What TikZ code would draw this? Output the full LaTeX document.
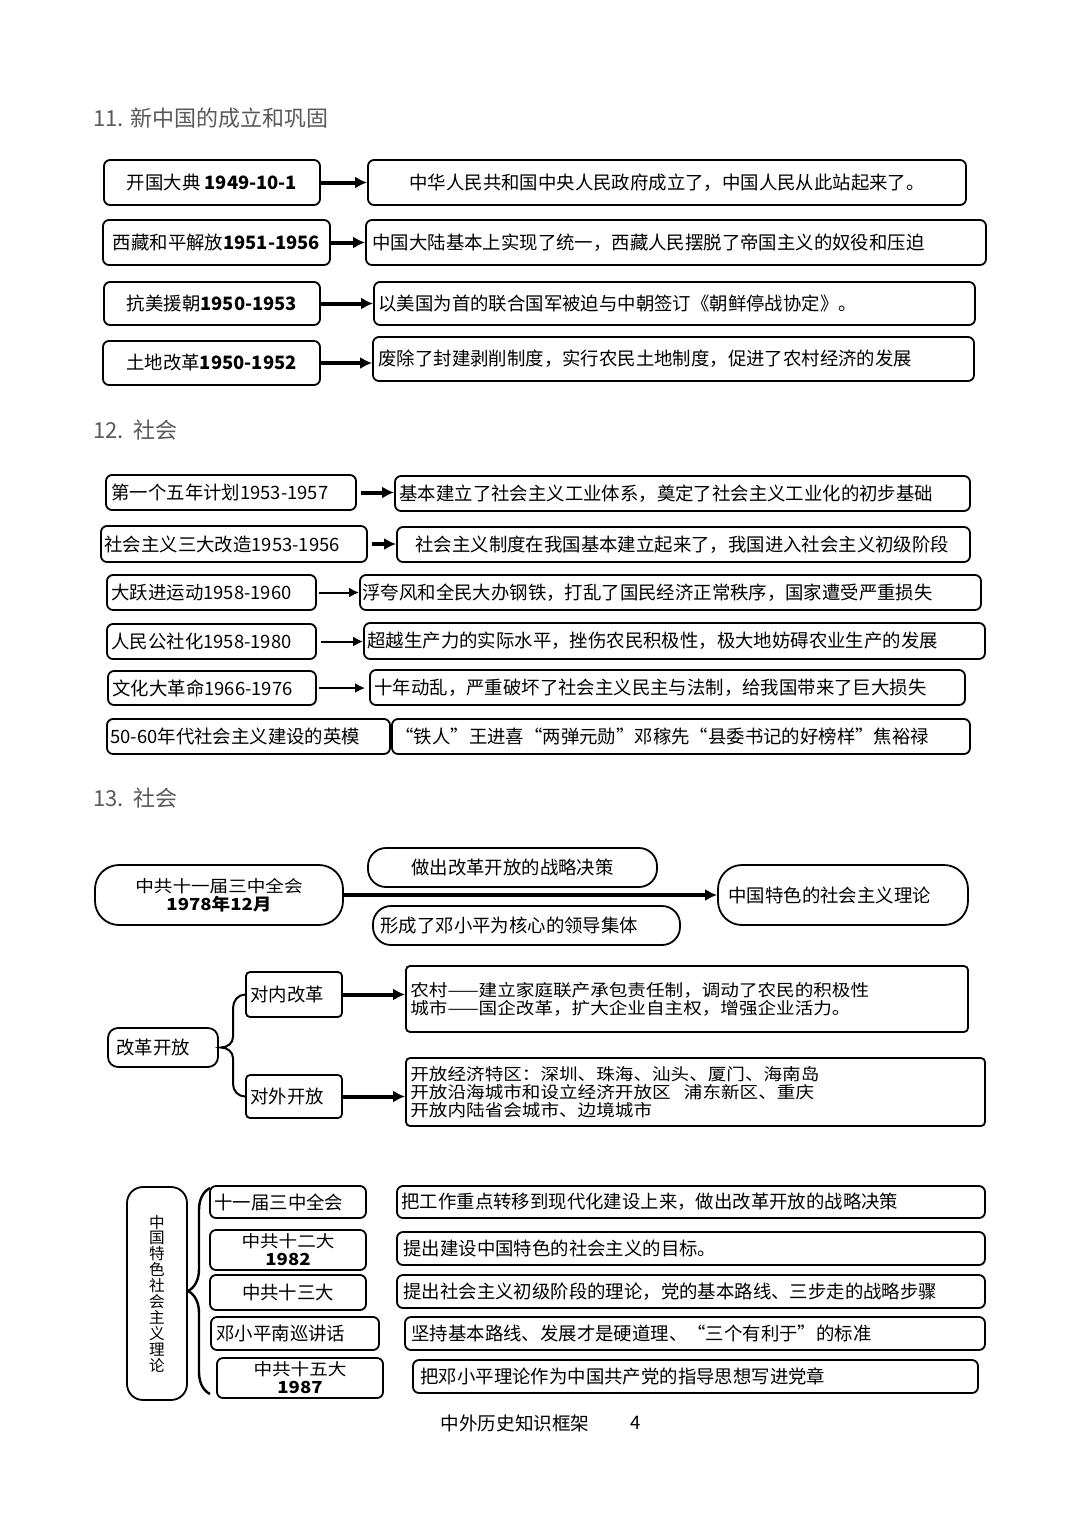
\documentclass[tikz,border=0pt]{standalone}
\usepackage{fontspec}
\setmainfont{Noto Sans CJK SC}
\newfontfamily\widecn[FakeStretch=1.12]{Noto Sans CJK SC}
\usetikzlibrary{arrows.meta,decorations.pathreplacing}

\begin{document}
\begin{tikzpicture}[x=0.5pt,y=-0.5pt,
  box/.style={draw,line width=0.9pt,rounded corners=3pt,inner sep=0pt,
    font=\fontsize{9.2}{9.2}\selectfont},
  txt/.style={anchor=west,inner sep=0pt,align=left,font=\fontsize{9.2}{9.2}\selectfont},
  lines/.style={font=\widecn\fontsize{8.3}{8.9}\selectfont},
  head/.style={anchor=west,inner sep=0pt,text=black!65,font=\fontsize{11}{13}\selectfont},
  fat/.style={line width=2pt,-{Latex[length=6pt,width=6pt]}},
  slim/.style={line width=1pt,-{Latex[length=5pt,width=5pt]}}]
  \useasboundingbox[fill=white] (0,0) rectangle (1080,1527);

  % 11
  \node[head] (h11) at (93,118) {11. 新中国的成立和巩固};
  \node[box,minimum width=108pt,minimum height=22.5pt] (a1) at (212,182.5) {开国大典 \textbf{1949-10-1}};
  \node[box,minimum width=299pt,minimum height=22.5pt] (b1) at (667,182.5) {中华人民共和国中央人民政府成立了，中国人民从此站起来了。};
  \node[box,minimum width=113.5pt,minimum height=22.5pt] (a2) at (216.5,242.5) {西藏和平解放\textbf{1951-1956}};
  \node[box,minimum width=310pt,minimum height=22.5pt] (b2) at (676,242.5) {};
  \node[txt] (b2t) at (372,242.5) {中国大陆基本上实现了统一，西藏人民摆脱了帝国主义的奴役和压迫};
  \node[box,minimum width=108pt,minimum height=21.5pt] (a3) at (212,303.5) {抗美援朝\textbf{1950-1953}};
  \node[box,minimum width=300.5pt,minimum height=21.5pt] (b3) at (674.5,303.5) {};
  \node[txt] (b3t) at (378,303.5) {以美国为首的联合国军被迫与中朝签订《朝鲜停战协定》。};
  \node[box,minimum width=108.5pt,minimum height=22pt] (a4) at (211.5,363) {土地改革\textbf{1950-1952}};
  \node[box,minimum width=300.5pt,minimum height=22pt] (b4) at (673.5,359) {};
  \node[txt] (b4t) at (378,359) {废除了封建剥削制度，实行农民土地制度，促进了农村经济的发展};
  \draw[fat] (a1.east) -- (a1.east -| b1.west);
  \draw[fat] (a2.east) -- (a2.east -| b2.west);
  \draw[fat] (a3.east) -- (a3.east -| b3.west);
  \draw[fat] (a4.east) -- (a4.east -| b4.west);

  % 12
  \node[head] (h12) at (93,430) {12.\ \ 社会};
  \node[box,minimum width=125pt,minimum height=17.5pt] (c1) at (231,492.5) {};
  \node[txt] (c1t) at (111,492.5) {第一个五年计划1953-1957};
  \node[box,minimum width=287.5pt,minimum height=17.5pt] (d1) at (682.5,493.5) {};
  \node[txt] (d1t) at (399,493.5) {基本建立了社会主义工业体系，奠定了社会主义工业化的初步基础};
  \node[box,minimum width=133pt,minimum height=18pt] (c2) at (234,544) {};
  \node[txt] (c2t) at (104,544) {社会主义三大改造1953-1956};
  \node[box,minimum width=286.5pt,minimum height=17.5pt] (d2) at (683.5,544.5) {};
  \node[txt] (d2t) at (415,544.5) {社会主义制度在我国基本建立起来了，我国进入社会主义初级阶段};
  \node[box,minimum width=104.5pt,minimum height=17.5pt] (c3) at (211.5,592.5) {};
  \node[txt] (c3t) at (111,592.5) {大跃进运动1958-1960};
  \node[box,minimum width=310.5pt,minimum height=17.5pt] (d3) at (670.5,592.5) {};
  \node[txt] (d3t) at (362,592.5) {浮夸风和全民大办钢铁，打乱了国民经济正常秩序，国家遭受严重损失};
  \node[box,minimum width=104.5pt,minimum height=17.5pt] (c4) at (211.5,641.5) {};
  \node[txt] (c4t) at (111,641.5) {人民公社化1958-1980};
  \node[box,minimum width=310.5pt,minimum height=18pt] (d4) at (674.5,641) {};
  \node[txt] (d4t) at (367,641) {超越生产力的实际水平，挫伤农民积极性，极大地妨碍农业生产的发展};
  \node[box,minimum width=104pt,minimum height=17pt] (c5) at (212,688) {};
  \node[txt] (c5t) at (112,688) {文化大革命1966-1976};
  \node[box,minimum width=297.5pt,minimum height=17.5pt] (d5) at (667.5,687.5) {};
  \node[txt] (d5t) at (374,687.5) {十年动乱，严重破坏了社会主义民主与法制，给我国带来了巨大损失};
  \node[box,minimum width=141.5pt,minimum height=17.5pt] (c6) at (248.5,736.5) {};
  \node[txt] (c6t) at (110,736.5) {50-60年代社会主义建设的英模};
  \node[box,minimum width=289pt,minimum height=17.5pt] (d6) at (681,736.5) {};
  \node[txt] (d6t) at (395,736.5) {“铁人”王进喜“两弹元勋”邓稼先“县委书记的好榜样”焦裕禄};
  \draw[fat,shorten <=2pt] (c1.east) -- (c1.east -| d1.west);
  \draw[fat,shorten <=2pt] (c2.east) -- (c2.east -| d2.west);
  \draw[slim,shorten <=1pt] (c3.east) -- (c3.east -| d3.west);
  \draw[slim,shorten <=2pt] (c4.east) -- (c4.east -| d4.west);
  \draw[slim,shorten <=1pt,shorten >=2pt] (c5.east) -- (c5.east -| d5.west);

  % 13
  \node[head] (h13) at (93,798) {13.\ \ 社会};
  \node[box,lines,rounded corners=12pt,minimum width=124pt,minimum height=30pt,align=center] (e1) at (219,895) {中共十一届三中全会\\\textbf{1978年12月}};
  \node[box,rounded corners=9pt,minimum width=144.5pt,minimum height=19.5pt] (e2) at (512.5,867.5) {做出改革开放的战略决策};
  \node[box,rounded corners=9pt,minimum width=153.5pt,minimum height=19.5pt] (e3) at (526.5,925.5) {};
  \node[txt] (e3t) at (380,925.5) {形成了邓小平为核心的领导集体};
  \node[box,rounded corners=12pt,minimum width=125pt,minimum height=30pt] (e4) at (843,895) {};
  \node[txt] (e4t) at (728,895) {中国特色的社会主义理论};
  \draw[fat] (e1) -- (e4);

  \node[box,rounded corners=5pt,minimum width=55pt,minimum height=19.5pt] (g0) at (163,1047.5) {};
  \node[txt] (g0t) at (116,1047.5) {改革开放};
  \node[box,rounded corners=2pt,minimum width=48pt,minimum height=22.5pt] (n0) at (294,994.5) {};
  \node[txt] (n0t) at (250,994.5) {对内改革};
  \node[box,rounded corners=2pt,minimum width=48pt,minimum height=21.5pt] (w0) at (294,1096.5) {};
  \node[txt] (w0t) at (250,1096.5) {对外开放};
  \node[box,rounded corners=2pt,minimum width=281pt,minimum height=33pt] (n1) at (687,999) {};
  \node[txt,lines] (n1t) at (410,999) {农村——建立家庭联产承包责任制，调动了农民的积极性\\城市——国企改革，扩大企业自主权，增强企业活力。};
  \node[box,rounded corners=2pt,minimum width=289.5pt,minimum height=34pt] (w1) at (695.5,1092) {};
  \node[txt,lines] (w1t) at (410,1092) {开放经济特区：深圳、珠海、汕头、厦门、海南岛\\开放沿海城市和设立经济开放区\hspace{0.8em}浦东新区、重庆\\开放内陆省会城市、边境城市};
  \draw[line width=1pt] (n0.west) to[out=180,in=90] (233,1008) -- (233,1037)
    to[out=-90,in=0] ([xshift=1pt]g0.east) to[out=0,in=90] (233,1058) -- (233,1084)
    to[out=-90,in=180] (w0.west);
  \draw[fat] (n0.east) -- (n0.east -| n1.west);
  \draw[fat] (w0.east) -- (w0.east -| w1.west);

  \node[box,rounded corners=8pt,minimum width=30pt,minimum height=106.5pt,align=center,
    font=\fontsize{7.8}{7.95}\selectfont] (t0) at (157,1293.5)
    {中\\国\\特\\色\\社\\会\\主\\义\\理\\论};
  \draw[line width=1.2pt,decorate,decoration={brace,amplitude=11pt}] (210,1394) -- (210,1188);
  \node[box,minimum width=78pt,minimum height=16pt] (p1) at (288,1202) {};
  \node[txt] (p1t) at (214,1202) {十一届三中全会};
  \node[box,minimum width=294pt,minimum height=16pt] (q1) at (691,1202) {};
  \node[txt] (q1t) at (401,1202) {把工作重点转移到现代化建设上来，做出改革开放的战略决策};
  \node[box,lines,minimum width=78pt,minimum height=20pt,align=center] (p2) at (288,1250) {中共十二大\\\textbf{1982}};
  \node[box,minimum width=294pt,minimum height=16.5pt] (q2) at (691,1248.5) {};
  \node[txt] (q2t) at (403,1248.5) {提出建设中国特色的社会主义的目标。};
  \node[box,minimum width=78pt,minimum height=17.5pt] (p3) at (288,1292.5) {中共十三大};
  \node[box,minimum width=294pt,minimum height=16.5pt] (q3) at (691,1291.5) {};
  \node[txt] (q3t) at (403,1291.5) {提出社会主义初级阶段的理论，党的基本路线、三步走的战略步骤};
  \node[box,minimum width=84pt,minimum height=16.5pt] (p4) at (295,1333.5) {};
  \node[txt] (p4t) at (216,1333.5) {邓小平南巡讲话};
  \node[box,minimum width=290pt,minimum height=16.5pt] (q4) at (695,1333.5) {};
  \node[txt] (q4t) at (411,1333.5) {坚持基本路线、发展才是硬道理、“三个有利于”的标准};
  \node[box,lines,minimum width=83pt,minimum height=20pt,align=center] (p5) at (300,1378) {中共十五大\\\textbf{1987}};
  \node[box,minimum width=282.5pt,minimum height=16.5pt] (q5) at (695.5,1376.5) {};
  \node[txt] (q5t) at (420,1376.5) {把邓小平理论作为中国共产党的指导思想写进党章};

  \node[font=\fontsize{9.3}{11}\selectfont] (ft) at (515,1423) {中外历史知识框架};
  \node[font=\fontsize{9.3}{11}\selectfont] (pg) at (636,1423) {4};
\end{tikzpicture}
\end{document}
